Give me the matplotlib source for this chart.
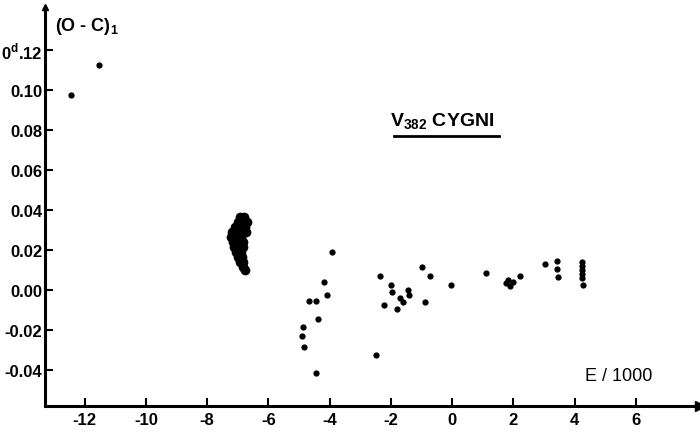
import matplotlib
matplotlib.use("Agg")
import matplotlib.pyplot as plt

plt.rcParams['font.family'] = ['Liberation Sans', 'DejaVu Sans']

# single points, E in thousands of cycles and (O-C)1 in days
e_pts = [-12.46, -11.53,
         -3.93, -4.20, -4.09, -4.69, -4.45, -4.37, -4.88, -4.89, -4.85, -4.46,
         -2.48, -2.37, -2.21, -1.99, -1.97, -1.81, -1.70, -1.60, -1.44, -1.40,
         -0.99, -0.72, -0.87, -0.05, 1.10,
         1.77, 1.90, 2.00, 1.84, 2.21, 3.04, 3.43, 3.43, 3.45,
         4.23, 4.23, 4.23, 4.23, 4.23, 4.27]
oc_pts = [0.0975, 0.1127,
          0.019, 0.0042, -0.0027, -0.0057, -0.0057, -0.0143, -0.0185, -0.0232, -0.0287, -0.0413,
          -0.0325, 0.007, -0.0073, 0.0025, -0.001, -0.0097, -0.004, -0.0058, 0.0, -0.0025,
          0.0117, 0.007, -0.006, 0.0027, 0.0087,
          0.0035, 0.002, 0.004, 0.005, 0.007, 0.013, 0.0143, 0.0107, 0.0067,
          0.014, 0.012, 0.010, 0.008, 0.006, 0.0023]

# dense group of minima near E = -7000
e_group = [-6.92, -6.79,
           -6.98, -6.82, -6.69,
           -7.08, -6.92, -6.75,
           -7.18, -7.02, -6.85, -6.72,
           -7.21, -7.05, -6.89,
           -7.15, -6.98, -6.82,
           -7.11, -6.95, -6.82,
           -7.05, -6.89,
           -6.98, -6.85,
           -6.92, -6.82,
           -6.82,
           -6.75]
oc_group = [0.0365, 0.0365,
            0.034, 0.034, 0.034,
            0.0315, 0.0315, 0.0315,
            0.029, 0.029, 0.029, 0.029,
            0.0265, 0.0265, 0.0265,
            0.024, 0.024, 0.024,
            0.0215, 0.0215, 0.0215,
            0.019, 0.019,
            0.0165, 0.0165,
            0.014, 0.014,
            0.0115,
            0.010]

x_ticks = [-12, -10, -8, -6, -4, -2, 0, 2, 4, 6]
x_labels = ['-12', '-10', '-8', '-6', '-4', '-2', '0', '2', '4', '6']
y_ticks = [0.12, 0.10, 0.08, 0.06, 0.04, 0.02, 0.00, -0.02, -0.04]
y_labels = ['0$^{\\mathregular{d}}$.12', '0.10', '0.08', '0.06', '0.04', '0.02',
            '0.00', '-0.02', '-0.04']

fig = plt.figure(figsize=(7, 4.35), dpi=100)
ax = fig.add_axes([0.0643, 0.0644, 0.9357, 0.9172])

ax.plot(e_group, oc_group, 'o', color='black', ms=7, mew=0, clip_on=False)
ax.plot(e_pts, oc_pts, 'o', color='black', ms=4.5, mew=0, clip_on=False)

ax.set_xlim(-13.3, 8.1)
ax.set_ylim(-0.058, 0.1415)

for side in ['top', 'right']:
    ax.spines[side].set_visible(False)
for side in ['left', 'bottom']:
    ax.spines[side].set_linewidth(2.2)

ax.set_xticks(x_ticks)
ax.set_xticklabels(x_labels)
ax.set_yticks(y_ticks)
ax.set_yticklabels(y_labels)
ax.tick_params(direction='in', length=6, width=1.5, labelsize=12)
ax.tick_params(axis='x', pad=4)
ax.tick_params(axis='y', pad=2)
for lab in ax.get_xticklabels() + ax.get_yticklabels():
    lab.set_fontweight('bold')

# arrow heads on both axes
ax.plot([1.0], [0.0], '>', color='black', ms=7, transform=ax.transAxes, clip_on=False)
ax.plot([0.0], [1.0], '^', color='black', ms=5, transform=ax.transAxes, clip_on=False)

ax.text(-12.98, 0.130, '(O - C)$_{\\mathregular{1}}$', fontsize=13, fontweight='bold')
ax.text(4.33, -0.045, 'E / 1000', fontsize=13)
ax.text(-2.03, 0.082, 'V$_{\\mathregular{382}}$ CYGNI', fontsize=14, fontweight='bold')
ax.plot([-1.90, 1.54], [0.077, 0.077], color='black', lw=2)

fig.savefig('out.png', dpi=100)
